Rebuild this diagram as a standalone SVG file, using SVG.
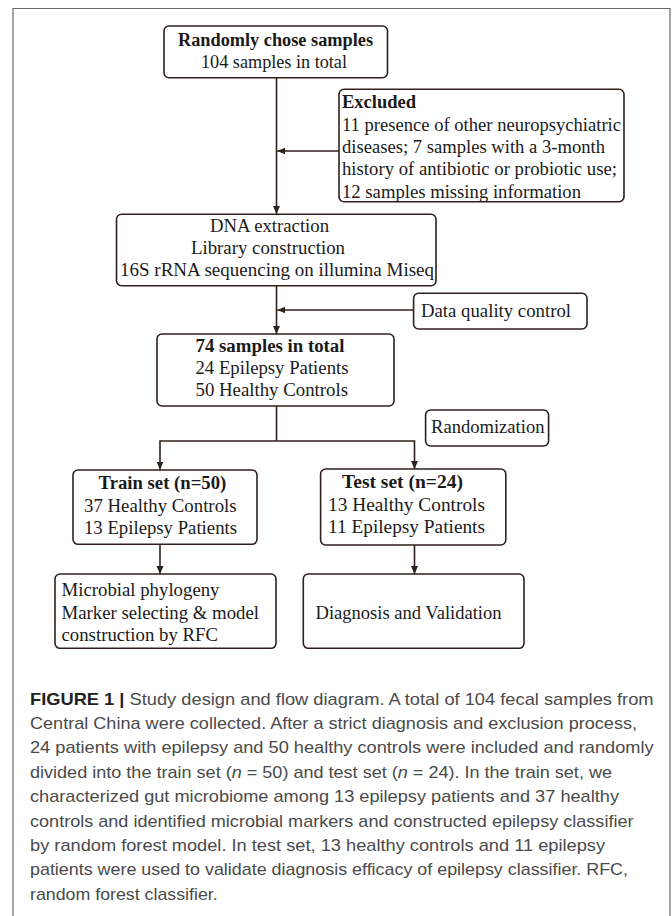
<svg xmlns="http://www.w3.org/2000/svg" width="672" height="916" viewBox="0 0 672 916">
<defs>
<marker id="ah" markerUnits="userSpaceOnUse" markerWidth="9" markerHeight="8" refX="8" refY="3.5" orient="auto">
<path d="M0,0 L8,3.5 L0,7 z" fill="#2e211d"/>
</marker>
<style>
.box{fill:#fff;stroke:#2e211d;stroke-width:1.6}
.t{font-family:"Liberation Serif","Times New Roman",serif;font-size:18.5px;fill:#1a1a1a}
.b{font-weight:bold}
.c{text-anchor:middle}
.ln{fill:none;stroke:#2e211d;stroke-width:1.6}
.cap{font-family:"Liberation Sans",Arial,sans-serif;font-size:17px;fill:#4a4a4a}
.capb{font-weight:bold;fill:#222}
</style>
</defs>
<rect width="672" height="916" fill="#fff"/>
<path d="M13,916 V8.5 H670 V916" fill="none" stroke="#6a6a6a" stroke-width="1.2"/>

<g id="connectors">
<path class="ln" d="M276.5,77.7 V214" marker-end="url(#ah)"/>
<path class="ln" d="M339,151 H277.3" marker-end="url(#ah)"/>
<path class="ln" d="M276.5,285.7 V334" marker-end="url(#ah)"/>
<path class="ln" d="M413.6,310 H277.3" marker-end="url(#ah)"/>
<path class="ln" d="M276.5,406 V441"/>
<path class="ln" d="M276.5,441 H160 V469.5" marker-end="url(#ah)"/>
<path class="ln" d="M276.5,441 H414.5 V469" marker-end="url(#ah)"/>
<path class="ln" d="M160,544.3 V574" marker-end="url(#ah)"/>
<path class="ln" d="M414.5,545 V574" marker-end="url(#ah)"/>
</g>

<g id="n_random">
<rect class="box" x="164" y="26" width="223.5" height="51.7" rx="5"/>
<text class="t b c" x="275.5" y="46" textLength="195" lengthAdjust="spacingAndGlyphs">Randomly chose samples</text>
<text class="t c" x="274" y="67.7" textLength="146" lengthAdjust="spacingAndGlyphs">104 samples in total</text>
</g>

<g id="n_excluded">
<rect class="box" x="339" y="89.3" width="285" height="112.4" rx="5"/>
<text class="t b" x="342" y="108.3" textLength="74" lengthAdjust="spacingAndGlyphs">Excluded</text>
<text class="t" x="342" y="130.5" textLength="279" lengthAdjust="spacingAndGlyphs">11 presence of other neuropsychiatric</text>
<text class="t" x="342" y="153" textLength="263" lengthAdjust="spacingAndGlyphs">diseases; 7 samples with a 3-month</text>
<text class="t" x="342" y="175.3" textLength="275" lengthAdjust="spacingAndGlyphs">history of antibiotic or probiotic use;</text>
<text class="t" x="342" y="197.5" textLength="239" lengthAdjust="spacingAndGlyphs">12 samples missing information</text>
</g>

<g id="n_dna">
<rect class="box" x="116.5" y="214.3" width="319.5" height="71.4" rx="5"/>
<text class="t c" x="269.5" y="231.7" textLength="119" lengthAdjust="spacingAndGlyphs">DNA extraction</text>
<text class="t c" x="268" y="254" textLength="154" lengthAdjust="spacingAndGlyphs">Library construction</text>
<text class="t c" x="277" y="276.3" textLength="314" lengthAdjust="spacingAndGlyphs">16S rRNA sequencing on illumina Miseq</text>
</g>

<g id="n_dqc">
<rect class="box" x="413.6" y="293.3" width="173.4" height="35.7" rx="5"/>
<text class="t" x="421" y="316.7" textLength="150" lengthAdjust="spacingAndGlyphs">Data quality control</text>
</g>

<g id="n_74">
<rect class="box" x="157" y="334" width="237" height="72" rx="5"/>
<text class="t b" x="195.5" y="351.7" textLength="149" lengthAdjust="spacingAndGlyphs">74 samples in total</text>
<text class="t" x="195.5" y="373.5" textLength="153" lengthAdjust="spacingAndGlyphs">24 Epilepsy Patients</text>
<text class="t" x="195.5" y="396" textLength="152.5" lengthAdjust="spacingAndGlyphs">50 Healthy Controls</text>
</g>

<g id="n_randomization">
<rect class="box" x="425.6" y="410" width="123" height="36" rx="5"/>
<text class="t" x="431" y="432.7" textLength="113.5" lengthAdjust="spacingAndGlyphs">Randomization</text>
</g>

<g id="n_train">
<rect class="box" x="73" y="470" width="184" height="74.3" rx="5"/>
<text class="t b" x="98.6" y="489.3" textLength="127.7" lengthAdjust="spacingAndGlyphs">Train set (n=50)</text>
<text class="t" x="84" y="511.7" textLength="152.6" lengthAdjust="spacingAndGlyphs">37 Healthy Controls</text>
<text class="t" x="84" y="534.3" textLength="153" lengthAdjust="spacingAndGlyphs">13 Epilepsy Patients</text>
</g>

<g id="n_test">
<rect class="box" x="320.6" y="469" width="185.2" height="76" rx="5"/>
<text class="t b" x="342" y="488.3" textLength="121" lengthAdjust="spacingAndGlyphs">Test set (n=24)</text>
<text class="t" x="328" y="510.7" textLength="157" lengthAdjust="spacingAndGlyphs">13 Healthy Controls</text>
<text class="t" x="328" y="533.3" textLength="157" lengthAdjust="spacingAndGlyphs">11 Epilepsy Patients</text>
</g>

<g id="n_microbial">
<rect class="box" x="55" y="574" width="221" height="74.3" rx="5"/>
<text class="t" x="61.5" y="596" textLength="158" lengthAdjust="spacingAndGlyphs">Microbial phylogeny</text>
<text class="t" x="61.5" y="619" textLength="197.5" lengthAdjust="spacingAndGlyphs">Marker selecting &amp; model</text>
<text class="t" x="61.5" y="641" textLength="156.5" lengthAdjust="spacingAndGlyphs">construction by RFC</text>
</g>

<g id="n_diagnosis">
<rect class="box" x="303.3" y="574" width="220.7" height="74.3" rx="5"/>
<text class="t" x="315.5" y="618.5" textLength="186" lengthAdjust="spacingAndGlyphs">Diagnosis and Validation</text>
</g>

<g id="caption">
<text class="cap" x="30" y="704.5" textLength="623.6" lengthAdjust="spacingAndGlyphs"><tspan class="capb">FIGURE 1 |</tspan> Study design and flow diagram. A total of 104 fecal samples from</text>
<text class="cap" x="30" y="728.9" textLength="607" lengthAdjust="spacingAndGlyphs">Central China were collected. After a strict diagnosis and exclusion process,</text>
<text class="cap" x="30" y="753.3" textLength="623.6" lengthAdjust="spacingAndGlyphs">24 patients with epilepsy and 50 healthy controls were included and randomly</text>
<text class="cap" x="30" y="777.7" textLength="582" lengthAdjust="spacingAndGlyphs">divided into the train set (<tspan font-style="italic">n</tspan> = 50) and test set (<tspan font-style="italic">n</tspan> = 24). In the train set, we</text>
<text class="cap" x="30" y="802.1" textLength="589" lengthAdjust="spacingAndGlyphs">characterized gut microbiome among 13 epilepsy patients and 37 healthy</text>
<text class="cap" x="30" y="826.5" textLength="603.5" lengthAdjust="spacingAndGlyphs">controls and identified microbial markers and constructed epilepsy classifier</text>
<text class="cap" x="30" y="850.9" textLength="575" lengthAdjust="spacingAndGlyphs">by random forest model. In test set, 13 healthy controls and 11 epilepsy</text>
<text class="cap" x="30" y="875.3" textLength="598" lengthAdjust="spacingAndGlyphs">patients were used to validate diagnosis efficacy of epilepsy classifier. RFC,</text>
<text class="cap" x="30" y="899.7" textLength="187.7" lengthAdjust="spacingAndGlyphs">random forest classifier.</text>
</g>
</svg>
